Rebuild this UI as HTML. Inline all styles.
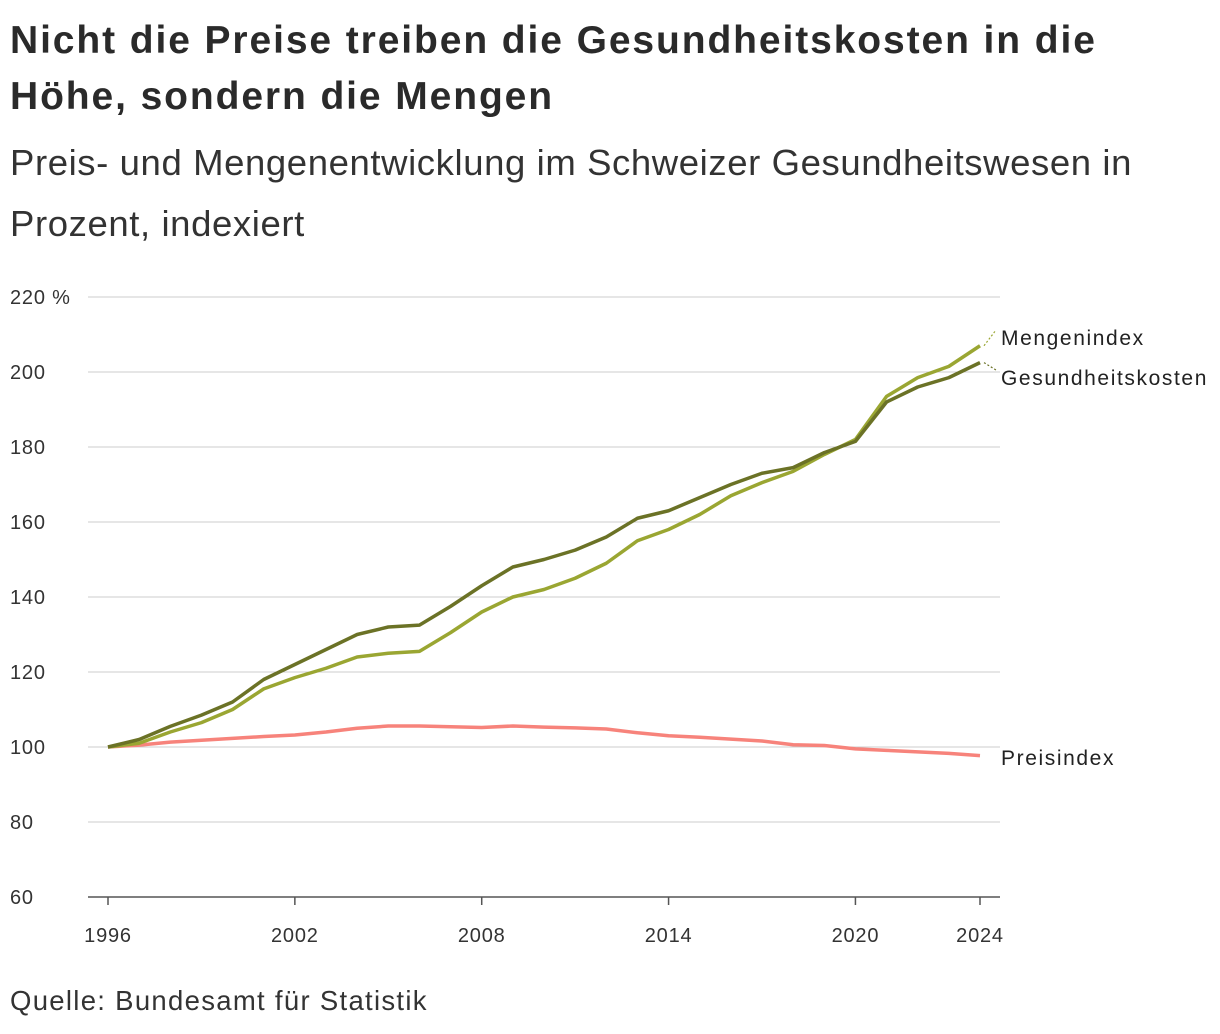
<!DOCTYPE html>
<html><head><meta charset="utf-8"><style>
body{margin:0;background:#fff;width:1220px;height:1034px;overflow:hidden;font-family:"Liberation Sans",sans-serif;color:#222}
h1{position:absolute;left:10px;top:13px;margin:0;font-size:39px;line-height:56px;font-weight:bold;width:1110px;letter-spacing:1.9px;color:#2a2a2a}
.sub{position:absolute;left:10px;top:132px;font-size:36.5px;line-height:61px;margin:0;width:1180px;color:#333;letter-spacing:0.6px}
.src{position:absolute;left:10px;top:985px;font-size:27.5px;color:#333;letter-spacing:1.3px}
svg{position:absolute;left:0;top:0}
</style></head><body>
<h1>Nicht die Preise treiben die Gesundheitskosten in die Höhe, sondern die Mengen</h1>
<p class="sub">Preis- und Mengenentwicklung im Schweizer Gesundheitswesen in Prozent, indexiert</p>
<div class="src">Quelle: Bundesamt für Statistik</div>
<svg id="c" width="1220" height="1034"></svg>
<script>
const years=[1996,1997,1998,1999,2000,2001,2002,2003,2004,2005,2006,2007,2008,2009,2010,2011,2012,2013,2014,2015,2016,2017,2018,2019,2020,2021,2022,2023,2024];
const kosten=[100,102,105.5,108.5,112,118,122,126,130,132,132.5,137.5,143,148,150,152.5,156,161,163,166.5,170,173,174.5,178.5,181.5,192,196,198.5,202.5];
const menge=[100,101,104,106.5,110,115.5,118.5,121,124,125,125.5,130.5,136,140,142,145,149,155,158,162,167,170.5,173.5,178,182,193.5,198.5,201.5,207];
const preis=[100,100.5,101.3,101.8,102.3,102.8,103.2,104,105,105.6,105.6,105.4,105.2,105.6,105.3,105.1,104.8,103.8,103,102.6,102.1,101.6,100.6,100.4,99.5,99.1,98.7,98.3,97.7];
const yTicks=[60,80,100,120,140,160,180,200,220];
const yTickLabels=["60","80","100","120","140","160","180","200","220 %"];
const xTicks=[1996,2002,2008,2014,2020,2024];
const X=v=>108+(v-1996)*(980-108)/28;
const Y=v=>897-(v-60)*3.75;
const s=document.getElementById('c');const NS='http://www.w3.org/2000/svg';
function el(t,a,txt){const e=document.createElementNS(NS,t);for(const k in a)e.setAttribute(k,a[k]);if(txt!=null)e.textContent=txt;s.appendChild(e);return e;}
yTicks.forEach((v,i)=>{
 const g=el('line',{x1:88,x2:1000,y1:Y(v),y2:Y(v),stroke:v===60?'#555':'#ccc','stroke-width':v===60?1.5:1});
 
 
 const t=el('text',{x:10,y:Y(v)+7,'font-size':20,fill:'#333','letter-spacing':0.8},yTickLabels[i]);
 
 
});
xTicks.forEach(v=>{
 const l=el('line',{x1:X(v),x2:X(v),y1:897,y2:905,stroke:'#555','stroke-width':1.5});
 
 
 const t=el('text',{x:X(v),y:942,'font-size':20,fill:'#333','text-anchor':'middle','letter-spacing':0.8},String(v));
 
 
});
function series(d,c,name){
 const p=el('polyline',{points:d.map((v,i)=>X(years[i])+','+Y(v)).join(' '),fill:'none',stroke:c,'stroke-width':3.5,'stroke-linejoin':'round'});
 
 
}
series(preis,'#f7837b','line-preisindex');
series(menge,'#9aa632','line-mengenindex');
series(kosten,'#6b7226','line-gesundheitskosten');
const n=years.length-1;
const labs=[[menge[n],'Mengenindex',338,'#9aa632'],[kosten[n],'Gesundheitskosten',378,'#6b7226'],[preis[n],'Preisindex',758,null]];
labs.forEach(([v,txt,ly,c])=>{
 if(c){const l=el('line',{x1:X(2024)+4,y1:Y(v),x2:996,y2:ly-8,stroke:c,'stroke-width':1.2,'stroke-dasharray':'2,2'});
 
 }
 const t=el('text',{x:1001,y:ly+7,'font-size':21,fill:'#222','letter-spacing':1.6},txt);
 
 
});
</script>
</body></html>
